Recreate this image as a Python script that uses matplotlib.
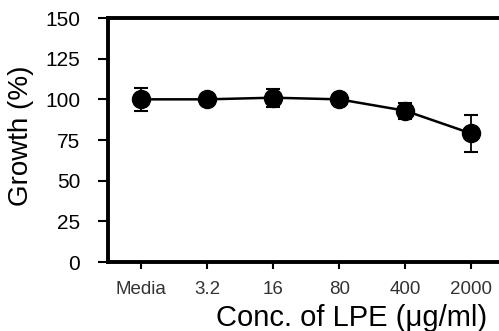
import matplotlib.pyplot as plt

# data
conc_labels = ["Media", "3.2", "16", "80", "400", "2000"]
growth = [100, 100, 101, 100, 93, 79]
growth_err = [7, 1, 5.5, 1, 5, 11.5]

plt.rcParams['font.family'] = ['Liberation Sans', 'DejaVu Sans']

fig = plt.figure(figsize=(4.99, 3.31), dpi=100)
ax = fig.add_axes([108 / 499, 1 - 262 / 331, 1 - 108 / 499, 244 / 331])

x = list(range(len(conc_labels)))
ax.errorbar(x, growth, yerr=growth_err, color="black", linewidth=1.8,
            marker="o", markersize=13, capsize=5, elinewidth=1.3, capthick=1.5)

ax.set_xlim(-0.5, 5.42)
ax.set_ylim(0, 150)
ax.set_yticks([0, 25, 50, 75, 100, 125, 150])
ax.set_xticks(x)
ax.set_xticklabels(conc_labels, fontsize=13.5, color="#333333")
ax.tick_params(axis="y", labelsize=15, direction="out", length=7, width=1.5, pad=13)
ax.tick_params(axis="x", direction="out", length=5, width=1.5, pad=9)

for side in ["left", "bottom", "top"]:
    ax.spines[side].set_linewidth(2.8)
ax.spines["right"].set_visible(False)

fig.text(0.976, 0.014, "Conc. of LPE (\u03bcg/ml)", fontsize=21, ha="right", va="baseline")
fig.text(0.043, 1 - 136 / 331, "Growth (%)", fontsize=20, rotation=90, ha="center", va="center")

fig.savefig("out.png", dpi=100)
